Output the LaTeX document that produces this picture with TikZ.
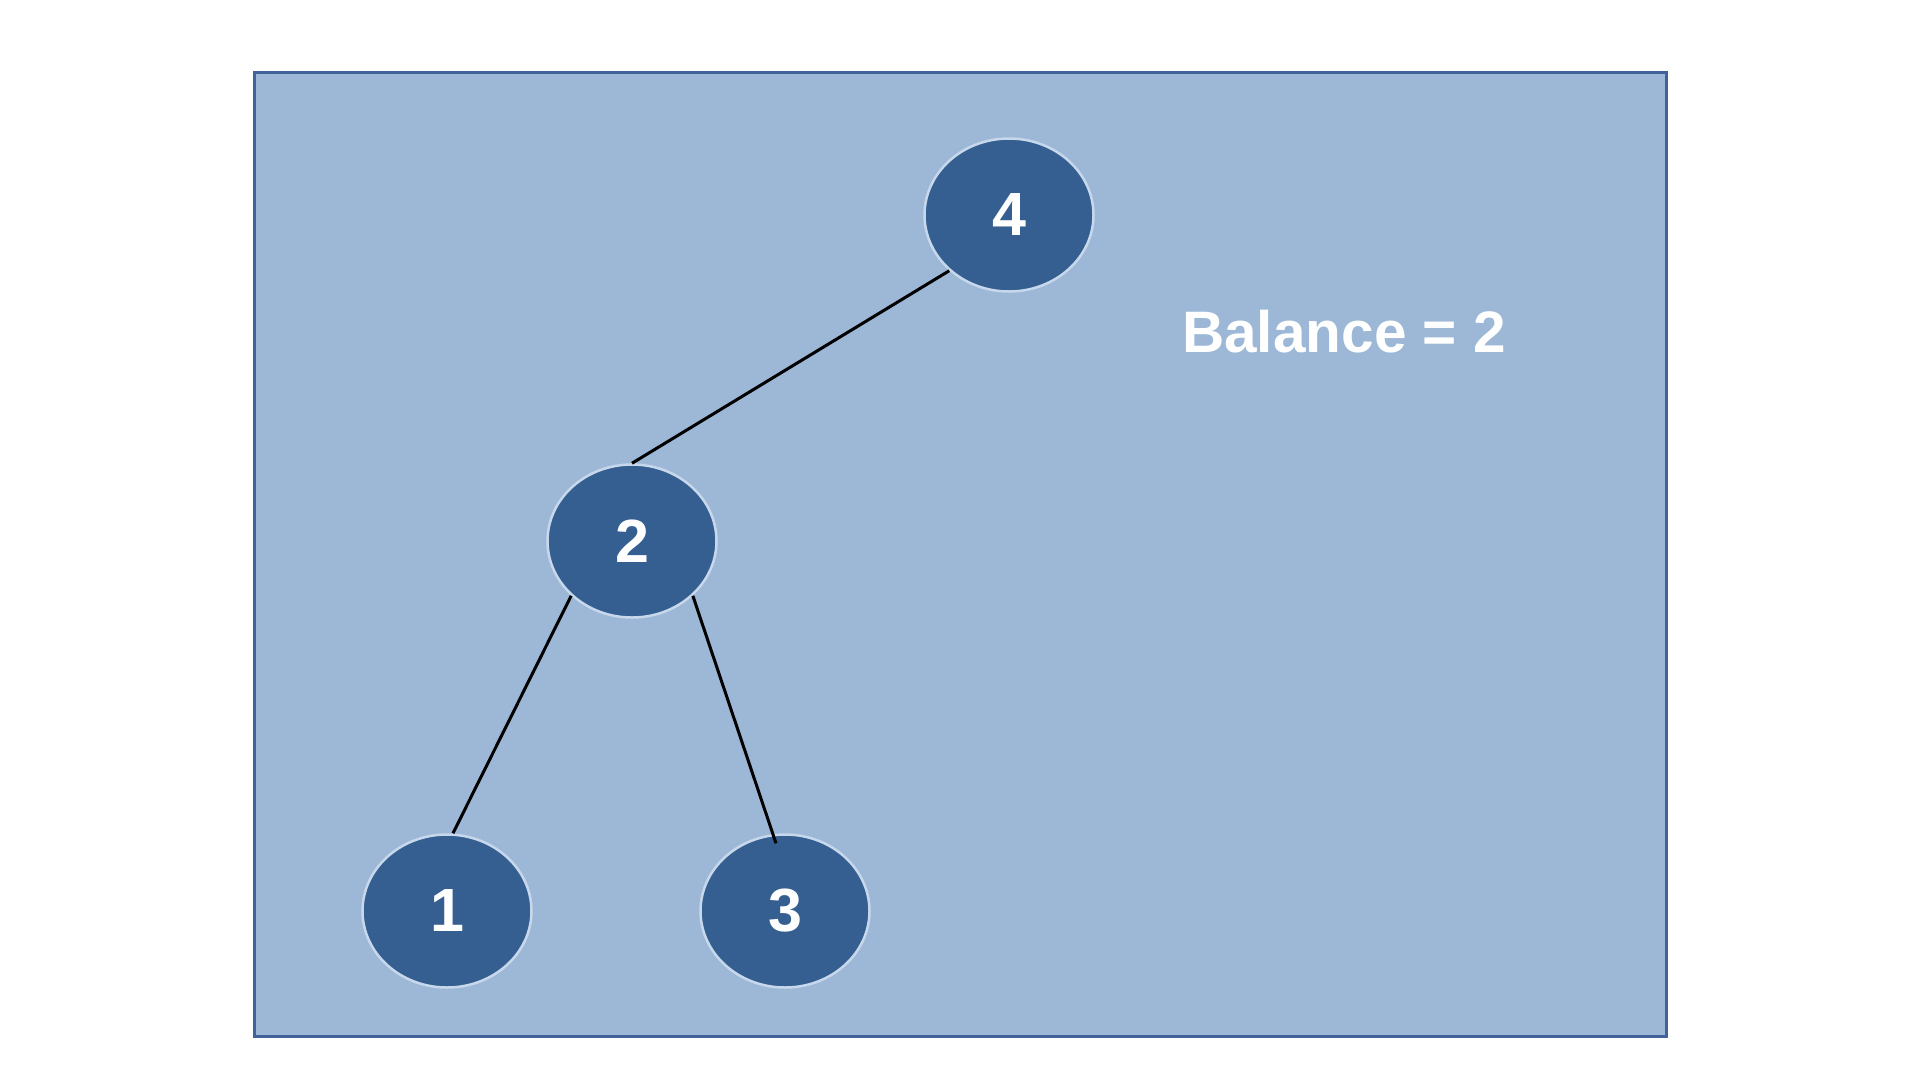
\documentclass[tikz,border=0pt]{standalone}
\usepackage{fontspec}
\setmainfont{Liberation Sans}
\usetikzlibrary{shapes.geometric}
\definecolor{panelfill}{HTML}{9DB7D6}
\definecolor{paneledge}{HTML}{41629A}
\definecolor{nodefill}{HTML}{355F91}
\definecolor{noderim}{HTML}{C8D8EC}
\tikzset{
  treenode/.style={ellipse, draw=noderim, line width=2.5pt, fill=nodefill,
    minimum width=169pt, minimum height=153pt, inner sep=0pt,
    text=white, font=\fontsize{61}{61}\selectfont\bfseries},
  edge/.style={black, line width=3pt},
  caption/.style={text=white, font=\fontsize{58.5}{58.5}\selectfont\bfseries}
}
\begin{document}
\begin{tikzpicture}[x=1pt, y=-1pt]
  \useasboundingbox (0,0) rectangle (1920,1080);
  \fill[white] (0,0) rectangle (1920,1080);
  % panel
  \draw[paneledge, line width=3pt, fill=panelfill] (254,72) rectangle (1666,1036);
  % nodes
  \node[treenode] (n4) at (1009,215) {4};
  \node[treenode] (n2) at (632,541) {2};
  \node[treenode] (n1) at (447,911) {1};
  \node[treenode] (n3) at (785,911) {3};
  % edges
  \draw[edge] (n4.223) -- (n2.north);
  \draw[edge] (n2.222) -- ([xshift=6pt]n1.north);
  \draw[edge] (n2.318) -- ([xshift=-9pt,yshift=-10pt]n3.north);
  % caption
  \node[caption] (bal) at (1344,332) {Balance = 2};
\end{tikzpicture}
\end{document}
